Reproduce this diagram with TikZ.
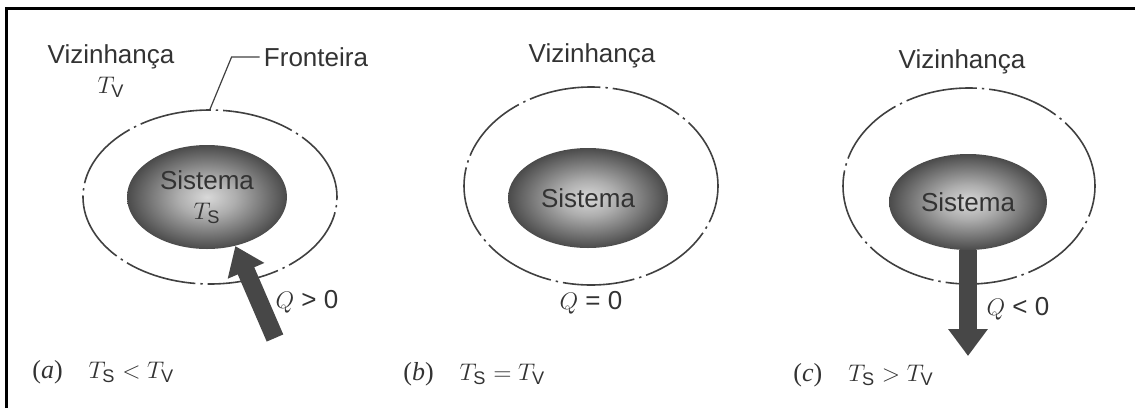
\documentclass[tikz,border=0pt]{standalone}
\usepackage{fontspec}
\setmainfont{Liberation Sans}
\newfontfamily\serif{Liberation Serif}
\usepackage{tikz}
\usetikzlibrary{shapes.geometric, arrows.meta}
\pgfdeclareradialshading{sistema}{\pgfpoint{0bp}{0bp}}{color(0bp)=(black!15); color(9bp)=(black!32); color(28bp)=(black!78); color(44bp)=(black!92); color(72bp)=(black!92)}

\begin{document}
\begin{tikzpicture}[x=0.5pt, y=-0.5pt,
		every node/.style={font=\fontsize{13}{15}\selectfont, text=black!80},
		bound/.style={ellipse, draw=black!75, line width=0.8pt, dash pattern=on 36pt off 2.5pt on 1.2pt off 2.5pt, inner sep=0pt},
		sys/.style={ellipse, shade, shading=sistema, inner sep=0pt, align=center},
		heat/.style={black!72, line width=9pt, -{Triangle[length=13.5pt, width=19pt]}},
		caption/.style={anchor=west, inner sep=0pt}]
		
		\useasboundingbox (0,0) rectangle (1135,408);
		\draw[line width=1.5pt] (6.5,408) -- (6.5,8.5) -- (1135,8.5);
		
		% (a) heat flows in
		\node[align=center] (viza) at (111,71) {Vizinhança\\$T_{\mathrm{V}}$};
		\node[inner sep=2pt] (fron) at (316,57) {Fronteira};
		\node[bound, minimum width=127pt, minimum height=87pt] (outa) at (210,197) {};
		\node[sys, minimum width=80pt, minimum height=52pt] (sisa) at (207,197) {Sistema\\$T_{\mathrm{S}}$};
		\draw[black!75, semithick] (fron.west) -- ++(-28,0) -- (outa.north);
		\coordinate (qa tail) at (275,338);
		\draw[heat] (qa tail) -- (sisa.-60);
		\node (qa) at (307,302) {$Q$ > 0};
		\node[caption] (capa) at (32,372) {{\serif(\textit{a})}\hspace{13pt}$T_{\mathrm{S}} < T_{\mathrm{V}}$};
		
		% (b) no heat
		\node (vizb) at (592,56) {Vizinhança};
		\node[bound, minimum width=127pt, minimum height=99pt] (outb) at (591,186) {};
		\node[sys, minimum width=80pt, minimum height=50pt] (sisb) at (588,198) {Sistema};
		\node (qb) at (591,303) {$Q$ = 0};
		\node[caption] (capb) at (403,374) {{\serif(\textit{b})}\hspace{13pt}$T_{\mathrm{S}} = T_{\mathrm{V}}$};
		
		% (c) heat flows out
		\node (vizc) at (962,62) {Vizinhança};
		\node[bound, minimum width=126pt, minimum height=98pt] (outc) at (969,186) {};
		\node[sys, minimum width=79pt, minimum height=48pt] (sisc) at (968,202) {Sistema};
		\coordinate (qc tip) at (970,356);
		\draw[heat] (sisc.south) -- (sisc.south |- qc tip);
		\node (qc) at (1018,309) {$Q$ < 0};
		\node[caption] (capc) at (793,375) {{\serif(\textit{c})}\hspace{13pt}$T_{\mathrm{S}} > T_{\mathrm{V}}$};
		
	\end{tikzpicture}
\end{document}
